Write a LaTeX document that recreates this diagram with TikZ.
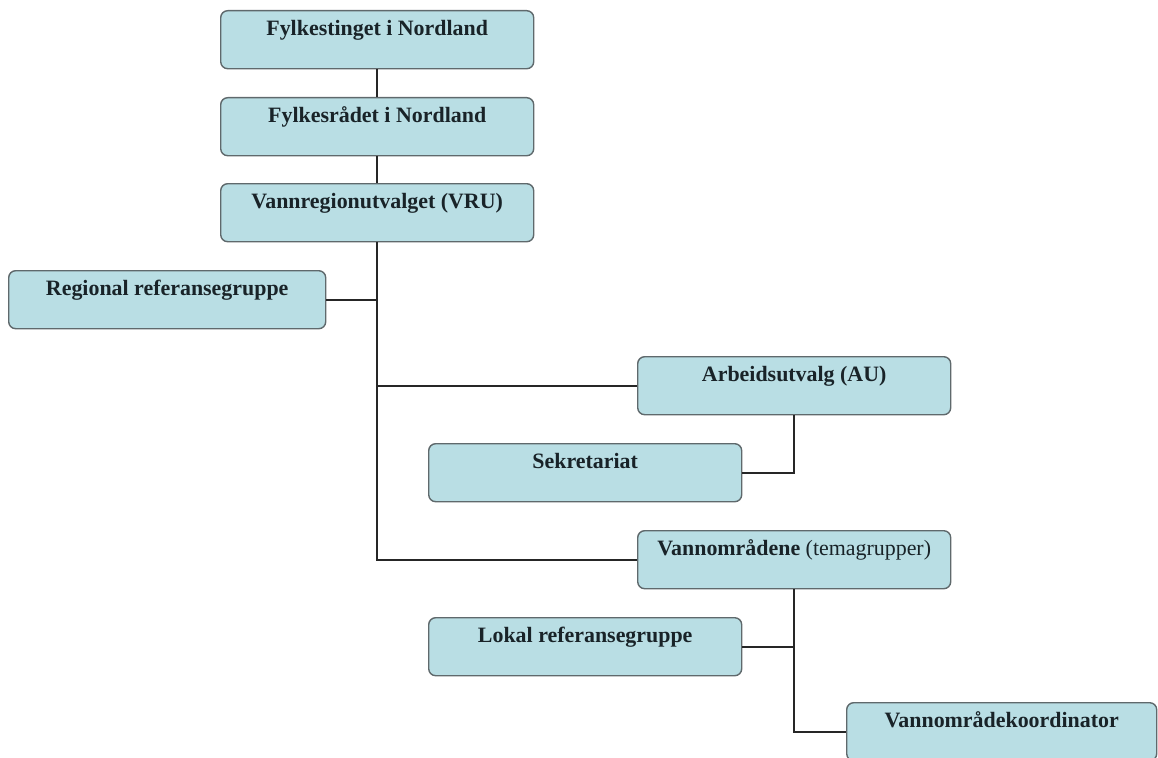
\documentclass[tikz,border=0pt]{standalone}
\usepackage{fontspec}
\setmainfont{Liberation Serif}
\definecolor{boxfill}{RGB}{185,222,228}
\definecolor{boxline}{RGB}{95,105,108}
\definecolor{textc}{RGB}{25,35,40}
\begin{document}
\begin{tikzpicture}[x=1bp,y=-1bp,
  orgbox/.style={draw=boxline, line width=1.4bp, fill=boxfill, rounded corners=7bp,
    anchor=north west, minimum width=313bp, inner xsep=0pt, inner ysep=0pt,
    text height=25bp, text depth=33bp, text=textc,
    font=\fontsize{22}{26}\selectfont\bfseries},
  link/.style={line width=2.4bp, draw=black!85}]
\useasboundingbox (0,0) rectangle (1158,758);
\node[orgbox] (fyl) at (220,10) {Fylkestinget i Nordland};
\node[orgbox] (rad) at (220,97) {Fylkesrådet i Nordland};
\node[orgbox] (vru) at (220,183) {Vannregionutvalget (VRU)};
\node[orgbox, minimum width=317bp] (reg) at (8,270) {Regional referansegruppe};
\node[orgbox] (au) at (637,356) {Arbeidsutvalg (AU)};
\node[orgbox] (sek) at (428,443) {Sekretariat};
\node[orgbox] (vo) at (637,530) {Vannområdene \mdseries(temagrupper)};
\node[orgbox] (lok) at (428,617) {Lokal referansegruppe};
\node[orgbox, minimum width=310bp] (koo) at (846,702) {Vannområdekoordinator};
\draw[link] (fyl.south) -- (rad.north);
\draw[link] (rad.south) -- (vru.north);
\draw[link] (vru.south) |- (vo.west);
\draw[link] (reg.east) -- (reg.east -| vru.south);
\draw[link] (au.west) -- (au.west -| vru.south);
\draw[link] (au.south) |- (sek.east);
\draw[link] (vo.south) |- (koo.west);
\draw[link] (lok.east) -- (lok.east -| vo.south);
\end{tikzpicture}
\end{document}
